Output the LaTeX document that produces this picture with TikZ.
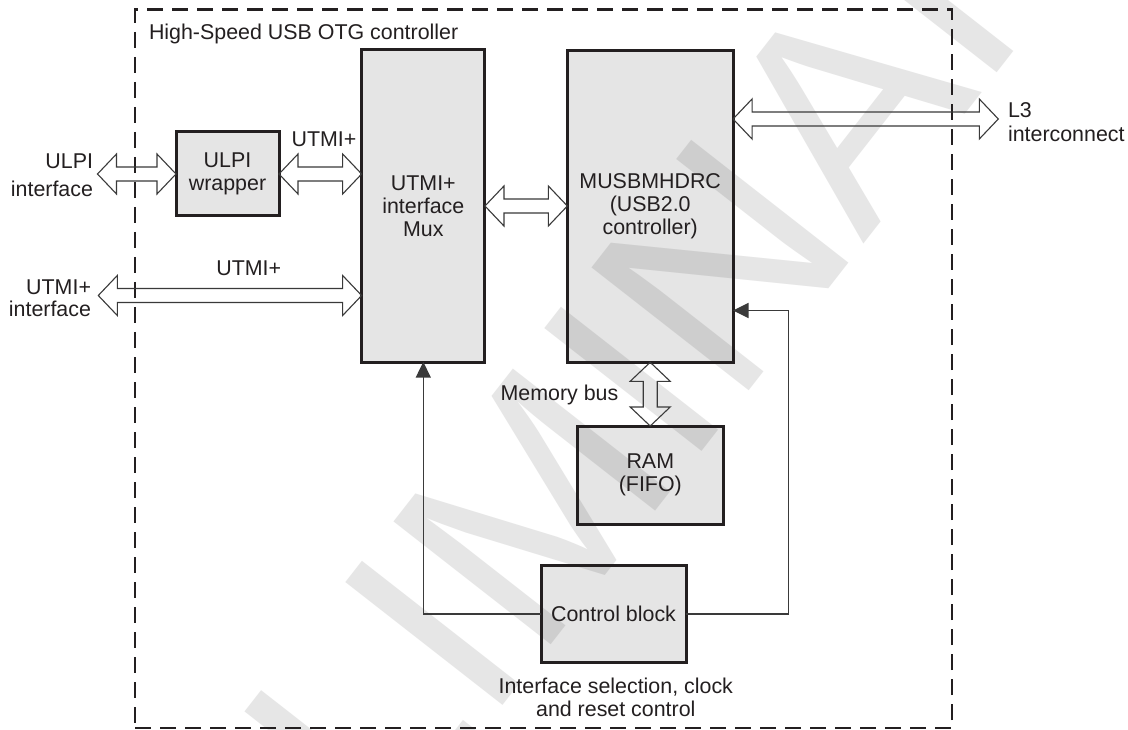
\documentclass[tikz,border=0pt]{standalone}
\usepackage{fontspec}
\setmainfont{Liberation Sans}
\usetikzlibrary{calc,arrows.meta}
\definecolor{ink}{HTML}{231F20}
\definecolor{wire}{HTML}{3A3A3A}
\definecolor{wmark}{HTML}{E6E6E6}
\tikzset{
  blk/.style={rectangle, draw=ink, line width=3pt, fill=black, fill opacity=0.1,
    text opacity=1, draw opacity=1, align=center},
  frame/.style={rectangle, draw=ink, line width=2.2pt, dash pattern=on 16pt off 9pt},
  bus/.style={draw=wire, line width=1.1pt, line join=miter},
  ctl/.style={draw=wire, line width=1.2pt},
  tip/.style={-{Triangle[length=15.5pt,width=15pt]}},
  wm/.style={font=\fontsize{290}{290}\selectfont, text=wmark}
}
\newcommand{\busarrow}[2]{%
  \path #1 coordinate (ba) #2 coordinate (bb);
  \draw[bus] (ba)
    -- ($ ($(ba)!19pt!(bb)$)!20pt!90:(bb) $)
    -- ($ ($(ba)!19pt!(bb)$)!7pt!90:(bb) $)
    -- ($ ($(bb)!19pt!(ba)$)!7pt!-90:(ba) $)
    -- ($ ($(bb)!19pt!(ba)$)!20pt!-90:(ba) $)
    -- (bb)
    -- ($ ($(bb)!19pt!(ba)$)!20pt!90:(ba) $)
    -- ($ ($(bb)!19pt!(ba)$)!7pt!90:(ba) $)
    -- ($ ($(ba)!19pt!(bb)$)!7pt!-90:(bb) $)
    -- ($ ($(ba)!19pt!(bb)$)!20pt!-90:(bb) $)
    -- cycle;}
\begin{document}
\begin{tikzpicture}[x=1pt,y=-1pt,
  every node/.style={font=\fontsize{21.4}{23}\selectfont, text=ink, inner sep=0pt, outer sep=0pt}]
\useasboundingbox (0,0) rectangle (1128,730);
\fill[white] (0,0) rectangle (1128,730);
\begin{scope}
  \clip (0,0) rectangle (1128,730);
  \node[wm, rotate=52, anchor=base] (wmk) at (624,551) {PRELIMINARY};
\end{scope}

% outer dashed frame
\node[frame, minimum width=817pt, minimum height=718.5pt] (otg) at (543.5,368.75) {};
\node[anchor=base west] (title) at (149,40) {High-Speed USB OTG controller};

% blocks
\node[blk, minimum width=103pt, minimum height=84pt] (wrap) at (227.5,174) {ULPI\\wrapper};
\node[blk, minimum width=123.3pt, minimum height=312pt] (mux) at (423.3,206) {UTMI+\\interface\\Mux};
\node[blk, minimum width=165.7pt, minimum height=312pt] (musb) at (650.2,206.3) {MUSBMHDRC\\(USB2.0\\controller)};
\node[blk, minimum width=146pt, minimum height=98pt] (ram) at (650.3,475) {RAM\\(FIFO)};
\node[blk, minimum width=145pt, minimum height=97.7pt] (ctrl) at (613.5,613.9) {Control block};

% labels
\node[anchor=north east, align=right] (ulpilbl) at (93,153.3) {ULPI\\[5.4pt]interface};
\node[anchor=north east, align=right] (utmilbl) at (91,280) {UTMI+\\[-1.3pt]interface};
\node[anchor=base] (utmiA) at (324,146.7) {UTMI+};
\node[anchor=base] (utmiB) at (248.7,276) {UTMI+};
\node[anchor=north west, align=left] (l3lbl) at (1008,102.3) {L3\\[1.4pt]interconnect};
\node[anchor=base east] (membus) at (618.3,400) {Memory bus};
\node[anchor=north, align=center] (caption) at (615.8,677.7) {Interface selection, clock\\[0.7pt]and reset control};

% free ends
\coordinate (ulpiEnd) at (97.5,174);
\coordinate (utmiEnd) at (98.3,295.5);
\coordinate (l3End) at (998.3,119);
\coordinate (ctrlR) at (788.3,310.5);

% bus arrows
\busarrow{(ulpiEnd)}{(wrap.west)}
\busarrow{(wrap.east)}{(mux.west |- wrap.east)}
\busarrow{(utmiEnd)}{(mux.west |- utmiEnd)}
\busarrow{(mux.east)}{(musb.west |- mux.east)}
\busarrow{(musb.east |- l3End)}{(l3End)}
\busarrow{(musb.south)}{(musb.south |- ram.north)}

% control connectors
\draw[ctl, tip] (ctrl.west) -| (mux.south);
\draw[ctl, tip] (ctrl.east) -| (ctrlR) -- (musb.east |- ctrlR);
\end{tikzpicture}
\end{document}
